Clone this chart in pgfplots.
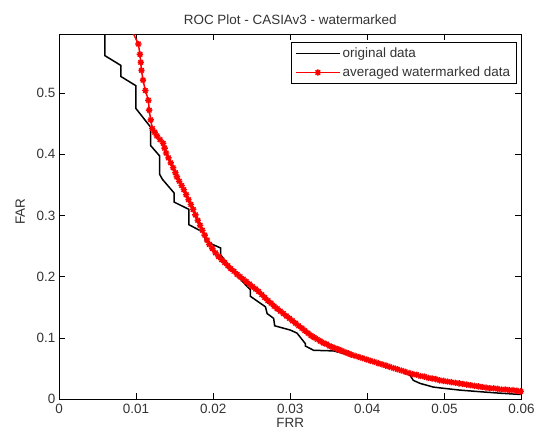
\documentclass[border=0pt]{standalone}
\usepackage{pgfplots}
\pgfplotsset{compat=1.18}
\usepackage{fontspec}
\setmainfont{Liberation Sans}
\pgfdeclareplotmark{mstar}{%
  \pgfpathmoveto{\pgfqpoint{0pt}{\pgfplotmarksize}}\pgfpathlineto{\pgfqpoint{0pt}{-\pgfplotmarksize}}%
  \pgfpathmoveto{\pgfqpoint{\pgfplotmarksize}{0pt}}\pgfpathlineto{\pgfqpoint{-\pgfplotmarksize}{0pt}}%
  \pgfpathmoveto{\pgfqpoint{0.707\pgfplotmarksize}{0.707\pgfplotmarksize}}\pgfpathlineto{\pgfqpoint{-0.707\pgfplotmarksize}{-0.707\pgfplotmarksize}}%
  \pgfpathmoveto{\pgfqpoint{-0.707\pgfplotmarksize}{0.707\pgfplotmarksize}}\pgfpathlineto{\pgfqpoint{0.707\pgfplotmarksize}{-0.707\pgfplotmarksize}}%
  \pgfusepathqstroke}
\pgfplotstableread{
x y
0.00595 0.62
0.00595 0.561
0.00802 0.545
0.00802 0.527
0.00996 0.512
0.00996 0.475
0.0119 0.444
0.0119 0.414
0.01307 0.397
0.01307 0.367
0.01342 0.359
0.01492 0.337
0.01492 0.322
0.01686 0.310
0.01686 0.285
0.0188 0.272
0.0190 0.258
0.02096 0.247
0.02096 0.236
0.02247 0.211
0.02441 0.184
0.02484 0.179
0.02484 0.168
0.02678 0.151
0.0270 0.140
0.02785 0.132
0.02798 0.120
0.03001 0.113
0.03088 0.108
0.03195 0.091
0.03195 0.087
0.03303 0.080
0.03562 0.079
0.03777 0.072
0.03993 0.065
0.04208 0.056
0.04424 0.048
0.04554 0.039
0.04596 0.031
0.04683 0.026
0.04855 0.020
0.04985 0.018
0.05200 0.015
0.05502 0.012
0.05718 0.010
0.05977 0.008
0.0600 0.008
}\orig
\pgfplotstableread{
x y
0.0096 0.598
0.0103 0.580
0.0105 0.563
0.0106 0.550
0.0107 0.537
0.0109 0.521
0.0112 0.504
0.0116 0.488
0.0117 0.472
0.0119 0.456
0.0121 0.442
0.0124 0.436
0.0127 0.430
0.0131 0.424
0.0135 0.418
0.0137 0.410
0.0139 0.402
0.0142 0.394
0.0145 0.386
0.0148 0.378
0.0151 0.370
0.0153 0.363
0.0156 0.356
0.0159 0.349
0.0162 0.342
0.0165 0.334
0.0168 0.326
0.0171 0.318
0.0174 0.310
0.0177 0.301
0.0180 0.292
0.0183 0.284
0.0186 0.276
0.0189 0.268
0.0192 0.260
0.0195 0.253
0.0199 0.246
0.0203 0.239
0.0207 0.233
0.0211 0.228
0.0215 0.223
0.0219 0.218
0.0223 0.213
0.0227 0.209
0.0231 0.204
0.0235 0.200
0.0239 0.196
0.0243 0.192
0.0247 0.188
0.0251 0.184
0.0255 0.180
0.0259 0.176
0.0263 0.171
0.0267 0.166
0.0271 0.161
0.0275 0.157
0.0279 0.152
0.0283 0.148
0.0287 0.144
0.0291 0.140
0.0295 0.136
0.0299 0.132
0.0303 0.128
0.0307 0.124
0.0311 0.120
0.0315 0.116
0.0319 0.112
0.0323 0.108
0.0327 0.104
0.0331 0.101
0.0335 0.098
0.0339 0.095
0.0343 0.092
0.0347 0.090
0.0351 0.087
0.0355 0.085
0.0359 0.083
0.0363 0.081
0.0367 0.079
0.0371 0.077
0.0375 0.075
0.0379 0.073
0.0384 0.071
0.0389 0.069
0.0394 0.067
0.0399 0.065
0.0404 0.063
0.0409 0.061
0.0414 0.059
0.0419 0.057
0.0424 0.055
0.0429 0.053
0.0434 0.051
0.0439 0.049
0.0444 0.047
0.0449 0.045
0.0454 0.043
0.0459 0.041
0.0464 0.040
0.0469 0.038
0.0474 0.037
0.0479 0.035
0.0484 0.034
0.0489 0.033
0.0494 0.031
0.0499 0.030
0.0504 0.029
0.0509 0.028
0.0514 0.027
0.0519 0.026
0.0524 0.025
0.0529 0.024
0.0534 0.023
0.0539 0.022
0.0544 0.021
0.0549 0.020
0.0554 0.019
0.0559 0.018
0.0564 0.018
0.0569 0.017
0.0574 0.016
0.0579 0.016
0.0584 0.015
0.0589 0.015
0.0594 0.014
0.0599 0.013
}\wm
\begin{document}
\begin{tikzpicture}
\useasboundingbox (-59bp,-36.7bp) rectangle (477bp,399.3bp);
\begin{axis}[
  at={(0,0)}, anchor=south west,
  scale only axis, width=462.5bp, height=365bp,
  xmin=0, xmax=0.06, ymin=0, ymax=0.5958,
  xtick={0,0.01,0.02,0.03,0.04,0.05,0.06},
  xticklabels={0,0.01,0.02,0.03,0.04,0.05,0.06},
  ytick={0,0.1,0.2,0.3,0.4,0.5},
  yticklabels={0,0.1,0.2,0.3,0.4,0.5},
  scaled x ticks=false, scaled y ticks=false,
  tick align=inside, major tick length=6bp,
  tick style={black, line width=0.7bp},
  axis line style={line width=0.9bp},
  tick label style={font=\fontsize{13.5}{15}\selectfont, text=black!80},
  xticklabel style={anchor=north, yshift=-3bp, inner sep=2bp},
  yticklabel style={anchor=east, xshift=-1.5bp, inner sep=2bp},
  every axis title shift=0pt,
  title={ROC Plot - CASIAv3 - watermarked},
  title style={font=\fontsize{13.5}{15}\selectfont, text=black!80, at={(axis description cs:0.5,1)}, anchor=base, yshift=10bp},
  xlabel={FRR}, ylabel={FAR},
  label style={font=\fontsize{13.5}{15}\selectfont, text=black!80},
  xlabel style={at={(axis description cs:0.5,0)}, anchor=base, yshift=-28.5bp},
  ylabel style={at={(axis description cs:0,0.514)}, anchor=base, yshift=34bp},
  legend style={at={(axis description cs:1,1)}, anchor=north east, xshift=-5bp, yshift=-8bp,
    font=\fontsize{13.5}{15}\selectfont, text=black!80, draw=black, line width=0.7bp, inner xsep=4bp, inner ysep=3bp,
    row sep=4bp},
  legend cell align=left,
  legend image code/.code={\draw[mark repeat=2, mark phase=2, #1] plot coordinates {(0bp,0bp) (22bp,0bp) (44bp,0bp)};},
]
\addplot[black, line width=1.5bp, mark=none] table[x=x,y=y] {\orig};
\addlegendentry{original data}
\addplot[red, line width=1.5bp, mark=mstar, mark size=3.2bp, mark options={line width=1.4bp}] table[x=x,y=y] {\wm};
\addlegendentry{averaged watermarked data}
\end{axis}
\end{tikzpicture}
\end{document}
